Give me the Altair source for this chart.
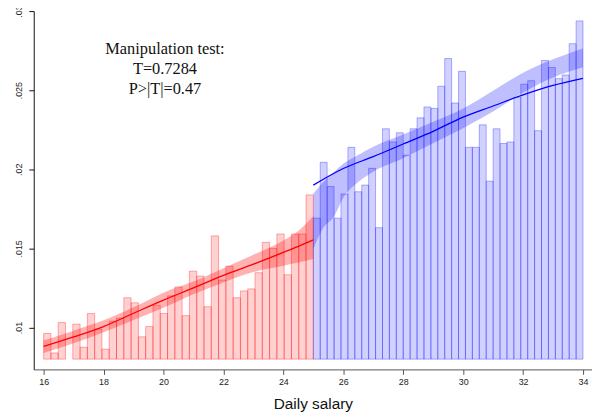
import altair as alt
import pandas as pd

# ---------------- data ----------------
left_range = [16, 25]
right_range = [25, 34]
bar_base = 0.008

red_heights = [0.00962, 0.00839, 0.01031, None, 0.01021, 0.00875, 0.01088, 0.0099,
               0.00863, 0.0104, 0.0106, 0.01188, 0.01156, 0.00941, 0.01006, 0.01141,
               0.01089, 0.0120, 0.01256, 0.01075, 0.01356, 0.01325, 0.01131, 0.01579,
               0.0130, 0.01388, 0.01188, 0.01231, 0.01244, 0.01346, 0.01538, 0.0150,
               0.01591, 0.01333, 0.01591, 0.01591, 0.01838]

blue_heights = [0.01691, 0.02044, 0.01891, 0.01691, 0.01844, 0.02139, 0.01858, 0.0190,
                0.02006, 0.01631, 0.02256, 0.02173, 0.02231, 0.02089, 0.02256, 0.02325,
                0.02394, 0.02385, 0.02525, 0.0270, 0.02419, 0.02619, 0.02139, 0.02139,
                0.02281, 0.01925, 0.02256, 0.02163, 0.02173, 0.02454, 0.02538, 0.0256,
                0.02244, 0.02688, 0.02644, 0.02573, 0.02596, 0.02794, 0.02938]

red_x = [16, 17, 18, 19, 20, 21, 22, 23, 24, 24.5, 25]
red_fit = [0.0088, 0.0094, 0.01006, 0.0109, 0.01173, 0.0125, 0.01329, 0.0140, 0.01475, 0.01513, 0.01554]
red_lo = [0.00838, 0.0090, 0.0097, 0.01048, 0.01125, 0.0121, 0.01285, 0.0135, 0.0139, 0.0141, 0.01433]
red_hi = [0.00918, 0.0098, 0.01045, 0.01128, 0.0122, 0.0129, 0.01375, 0.0146, 0.0155, 0.0161, 0.01704]

blue_fit_x = [25, 26, 27, 28, 29, 30, 31, 32, 33, 34]
blue_fit = [0.0190, 0.02005, 0.0208, 0.0216, 0.0224, 0.0233, 0.0240, 0.0247, 0.0253, 0.02575]

blue_band_x = [25, 25.3, 25.7, 26, 26.5, 27, 28, 29, 30, 31, 32, 33, 34]
blue_hi = [0.01846, 0.01913, 0.01985, 0.02035, 0.0209, 0.02143, 0.0222, 0.0230, 0.02385,
           0.02497, 0.0261, 0.02695, 0.02764]
blue_lo = [0.01496, 0.0162, 0.01704, 0.0182, 0.0192, 0.01985, 0.0207, 0.02165, 0.0226,
           0.02365, 0.02485, 0.0258, 0.02645]

note_lines = ["Manipulation test:", "T=0.7284", "P>|T|=0.47"]
note_y = [0.02729, 0.02604, 0.02479]
note_x = 20.05

x_ticks = [16, 18, 20, 22, 24, 26, 28, 30, 32, 34]
y_ticks = [0.01, 0.015, 0.02, 0.025, 0.03]
x_title = "Daily salary"

# ---------------- tables ----------------
def bins(rng, heights):
    n = len(heights)
    w = (rng[1] - rng[0]) / n
    rows = []
    for i, h in enumerate(heights):
        if h is None:
            continue
        rows.append({"x0": rng[0] + i * w, "x1": rng[0] + (i + 1) * w, "top": h, "base": bar_base})
    return pd.DataFrame(rows)

red_df = bins(left_range, red_heights)
blue_df = bins(right_range, blue_heights)
red_band_df = pd.DataFrame({"x": red_x, "fit": red_fit, "lo": red_lo, "hi": red_hi})
blue_band_df = pd.DataFrame({"x": blue_band_x, "lo": blue_lo, "hi": blue_hi})
blue_fit_df = pd.DataFrame({"x": blue_fit_x, "fit": blue_fit})
note_df = pd.DataFrame({"x": [note_x] * 3, "y": note_y, "t": note_lines})

xs = alt.Scale(domain=[15.67, 34.30], nice=False, zero=False)
ys = alt.Scale(domain=[0.00735, 0.03], nice=False, zero=False)

xaxis = alt.Axis(values=x_ticks, format="d", title=x_title, grid=False,
                 labelFont="Liberation Sans", labelFontSize=9, labelColor="#222",
                 tickSize=5, labelPadding=3, domainColor="#555", tickColor="#555",
                 titleFont="Liberation Sans", titleFontSize=15.5, titleFontWeight="normal",
                 titleColor="#111", titlePadding=11)
yaxis = alt.Axis(values=y_ticks, labelExpr="substring(format(datum.value, '.3~f'), 1)",
                 title=None, grid=False, labelAngle=270, labelAlign="center",
                 labelBaseline="bottom", labelFont="Liberation Sans", labelFontSize=9,
                 labelColor="#222", tickSize=5, labelPadding=5, domainColor="#111",
                 tickColor="#111")

X = lambda f: alt.X(f, type="quantitative", scale=xs, axis=xaxis)
Y = lambda f: alt.Y(f, type="quantitative", scale=ys, axis=yaxis)

red_bars = alt.Chart(red_df).mark_rect(
    fill="#ff0000", fillOpacity=0.18, stroke="#ff0000", strokeOpacity=0.32, strokeWidth=1
).encode(x=X("x0"), x2="x1", y=Y("top"), y2="base")

blue_bars = alt.Chart(blue_df).mark_rect(
    fill="#0000ff", fillOpacity=0.18, stroke="#0000ff", strokeOpacity=0.3, strokeWidth=1
).encode(x=X("x0"), x2="x1", y=Y("top"), y2="base")

red_band = alt.Chart(red_band_df).mark_area(color="#ff0000", opacity=0.3, interpolate="monotone").encode(
    x=X("x"), y=Y("lo"), y2="hi")
blue_band = alt.Chart(blue_band_df).mark_area(color="#0000ff", opacity=0.25, interpolate="monotone").encode(
    x=X("x"), y=Y("lo"), y2="hi")

red_line = alt.Chart(red_band_df).mark_line(color="#ff0000", strokeWidth=1.3, interpolate="monotone").encode(
    x=X("x"), y=Y("fit"))
blue_line = alt.Chart(blue_fit_df).mark_line(color="#0000ff", strokeWidth=1.3, interpolate="monotone").encode(
    x=X("x"), y=Y("fit"))

note = alt.Chart(note_df).mark_text(font="Liberation Serif", fontSize=16.5, color="#111",
                                    align="center", baseline="alphabetic").encode(
    x=X("x"), y=Y("y"), text="t:N")

chart = alt.layer(red_bars, blue_bars, red_band, blue_band, red_line, blue_line, note).properties(
    width=564, height=362,
    padding={"left": 26, "top": 1, "right": 0, "bottom": 50},
    autosize=alt.AutoSizeParams(type="none"),
    background="white",
).configure_view(stroke=None)

chart.save("out.html", embed_options={"renderer": "svg", "actions": False})
